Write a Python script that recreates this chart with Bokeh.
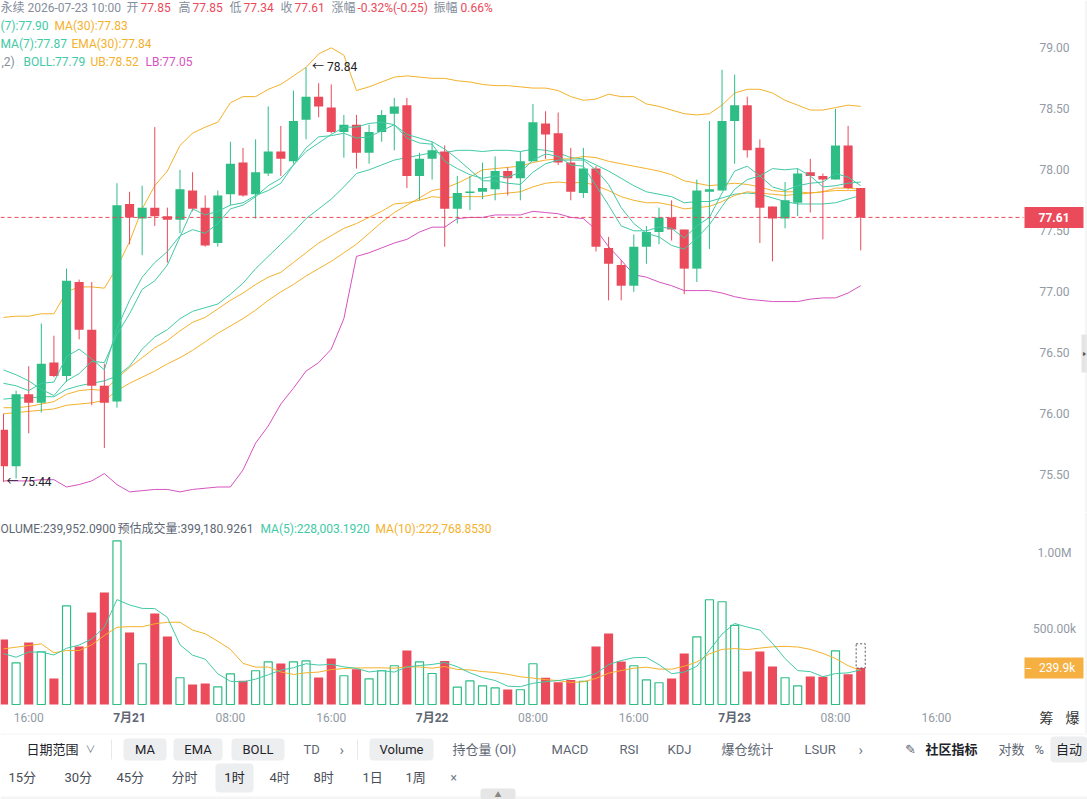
from bokeh.plotting import figure
from bokeh.layouts import column
from bokeh.models import Range1d, Label, Span
from bokeh.embed import file_html
from bokeh.resources import INLINE
from bokeh.core.properties import value

# ---------------- data: 1h candles, 2026-07-20 14:00 .. 2026-07-23 10:00 ----------------
opens = [75.87, 75.57, 76.16, 76.09, 76.42, 76.31, 77.08, 76.69, 76.23, 76.10,
         77.72, 77.60, 77.69, 77.62, 77.59, 77.83, 77.69, 77.40, 77.80, 78.06,
         77.80, 77.97, 78.15, 78.07, 78.41, 78.60, 78.51, 78.31, 78.37, 78.14,
         78.31, 78.46, 78.53, 77.95, 78.09, 78.15, 77.68, 77.81, 77.82, 77.84,
         77.99, 77.93, 78.07, 78.38, 78.30, 78.06, 77.81, 78.01, 77.36, 77.22,
         77.05, 77.37, 77.49, 77.61, 77.51, 77.19, 77.82, 77.83, 78.40, 78.53,
         78.18, 77.70, 77.60, 77.73, 77.98, 77.95, 77.92, 78.20, 77.85]
highs = [76.00, 76.19, 76.39, 76.74, 76.64, 77.19, 77.10, 77.08, 76.41, 77.89,
         77.82, 77.87, 78.35, 77.69, 78.00, 77.98, 77.79, 77.83, 78.23, 78.18,
         78.25, 78.52, 78.36, 78.65, 78.84, 78.71, 78.70, 78.45, 78.45, 78.37,
         78.49, 78.59, 78.59, 78.14, 78.23, 78.20, 77.95, 77.95, 78.06, 78.11,
         78.02, 78.15, 78.54, 78.48, 78.47, 78.18, 78.18, 78.03, 77.45, 77.26,
         77.47, 77.54, 77.69, 77.75, 77.51, 77.92, 78.40, 78.82, 78.78, 78.60,
         78.25, 77.70, 77.90, 78.01, 78.09, 77.97, 78.50, 78.36, 77.85]
lows = [75.44, 75.47, 75.84, 76.01, 76.30, 76.26, 76.61, 76.07, 75.72, 76.05,
        77.39, 77.30, 77.54, 77.24, 77.48, 77.66, 77.37, 77.37, 77.71, 77.78,
        77.60, 77.95, 77.95, 78.05, 78.25, 78.43, 78.30, 78.10, 78.01, 78.05,
        78.23, 78.16, 77.85, 77.75, 77.92, 77.37, 77.56, 77.67, 77.76, 77.75,
        77.79, 77.75, 78.07, 78.09, 78.04, 77.75, 77.77, 77.33, 76.93, 76.93,
        77.00, 77.23, 77.39, 77.42, 76.98, 77.08, 77.35, 77.83, 78.05, 78.10,
        77.40, 77.25, 77.52, 77.62, 77.65, 77.43, 77.92, 77.84, 77.34]
closes = [75.57, 76.16, 76.09, 76.41, 76.31, 77.09, 76.69, 76.23, 76.09, 77.71,
          77.61, 77.69, 77.62, 77.59, 77.84, 77.68, 77.38, 77.79, 78.05, 77.79,
          77.98, 78.15, 78.09, 78.40, 78.60, 78.52, 78.31, 78.37, 78.14, 78.31,
          78.45, 78.52, 77.95, 78.09, 78.16, 77.68, 77.81, 77.82, 77.85, 77.99,
          77.93, 78.07, 78.39, 78.29, 78.06, 77.82, 78.01, 77.37, 77.23, 77.05,
          77.37, 77.49, 77.61, 77.51, 77.19, 77.83, 77.84, 78.40, 78.53, 78.16,
          77.69, 77.60, 77.75, 77.97, 77.95, 77.92, 78.20, 77.85, 77.61]
volumes = [428e3, 274e3, 408e3, 347e3, 171e3, 649e3, 382e3, 605e3, 737e3, 1077e3,
           474e3, 268e3, 599e3, 447e3, 176e3, 132e3, 138e3, 116e3, 202e3, 156e3,
           222e3, 281e3, 270e3, 281e3, 287e3, 178e3, 303e3, 189e3, 232e3, 169e3,
           222e3, 255e3, 355e3, 281e3, 204e3, 287e3, 114e3, 156e3, 123e3, 110e3,
           99e3, 97e3, 268e3, 176e3, 147e3, 162e3, 153e3, 382e3, 467e3, 283e3,
           255e3, 162e3, 143e3, 171e3, 336e3, 445e3, 689e3, 676e3, 520e3, 217e3,
           349e3, 250e3, 176e3, 123e3, 184e3, 182e3, 353e3, 199e3, 239952.09]
est_volume_last = 399180.9261

# indicator lines
ma7 = [76.36, 76.32, 76.27, 76.20, 76.15, 76.27, 76.33, 76.43, 76.42, 76.65,
       76.82, 77.02, 77.09, 77.22, 77.45, 77.68, 77.63, 77.66, 77.71, 77.73,
       77.79, 77.83, 77.89, 78.04, 78.15, 78.22, 78.29, 78.35, 78.35, 78.38,
       78.39, 78.37, 78.29, 78.26, 78.23, 78.17, 78.09, 78.00, 77.91, 77.91,
       77.89, 77.88, 77.98, 78.05, 78.08, 78.08, 78.08, 78.00, 77.88, 77.69,
       77.56, 77.48, 77.45, 77.38, 77.35, 77.44, 77.55, 77.70, 77.84, 77.92,
       77.95, 78.01, 78.00, 78.01, 77.95, 77.86, 77.87, 77.89, 77.90]
ema7 = [76.25, 76.23, 76.19, 76.25, 76.26, 76.47, 76.53, 76.45, 76.36, 76.70,
        76.93, 77.12, 77.24, 77.33, 77.46, 77.51, 77.48, 77.56, 77.68, 77.71,
        77.78, 77.87, 77.93, 78.04, 78.18, 78.27, 78.28, 78.30, 78.26, 78.27,
        78.32, 78.37, 78.26, 78.22, 78.21, 78.07, 78.01, 77.96, 77.93, 77.95,
        77.94, 77.98, 78.08, 78.13, 78.11, 78.04, 78.03, 77.87, 77.71, 77.54,
        77.50, 77.50, 77.53, 77.52, 77.44, 77.54, 77.61, 77.81, 77.99, 78.03,
        77.95, 77.86, 77.83, 77.87, 77.89, 77.90, 77.97, 77.94, 77.87]
ma30 = [76.00, 76.01, 76.02, 76.03, 76.04, 76.07, 76.08, 76.09, 76.11, 76.19,
        76.25, 76.30, 76.35, 76.41, 76.46, 76.52, 76.59, 76.66, 76.72, 76.78,
        76.85, 76.93, 77.00, 77.06, 77.13, 77.19, 77.25, 77.32, 77.39, 77.48,
        77.57, 77.65, 77.71, 77.77, 77.83, 77.85, 77.89, 77.94, 78.00, 78.01,
        78.02, 78.03, 78.06, 78.08, 78.09, 78.09, 78.11, 78.10, 78.07, 78.05,
        78.03, 78.01, 77.99, 77.96, 77.91, 77.89, 77.87, 77.88, 77.89, 77.88,
        77.86, 77.83, 77.82, 77.82, 77.81, 77.82, 77.83, 77.83, 77.83]
ema30 = [76.05, 76.05, 76.06, 76.08, 76.10, 76.16, 76.19, 76.20, 76.19, 76.29,
         76.38, 76.46, 76.54, 76.60, 76.68, 76.75, 76.79, 76.86, 76.93, 76.99,
         77.06, 77.12, 77.16, 77.24, 77.32, 77.40, 77.46, 77.52, 77.56, 77.61,
         77.66, 77.72, 77.73, 77.75, 77.78, 77.77, 77.78, 77.78, 77.78, 77.80,
         77.81, 77.82, 77.86, 77.89, 77.90, 77.89, 77.90, 77.87, 77.83, 77.78,
         77.75, 77.73, 77.73, 77.71, 77.68, 77.69, 77.70, 77.74, 77.79, 77.82,
         77.81, 77.80, 77.79, 77.80, 77.81, 77.82, 77.85, 77.85, 77.84]
boll_mid = [76.12, 76.13, 76.13, 76.14, 76.14, 76.20, 76.23, 76.25, 76.27, 76.31,
            76.39, 76.53, 76.63, 76.69, 76.78, 76.84, 76.87, 76.90, 76.98, 77.07,
            77.19, 77.29, 77.39, 77.49, 77.60, 77.68, 77.76, 77.86, 77.97, 78.00,
            78.04, 78.08, 78.10, 78.12, 78.14, 78.14, 78.16, 78.16, 78.15, 78.16,
            78.16, 78.15, 78.17, 78.16, 78.14, 78.10, 78.09, 78.04, 77.99, 77.93,
            77.87, 77.82, 77.80, 77.78, 77.73, 77.74, 77.74, 77.77, 77.80, 77.81,
            77.80, 77.77, 77.74, 77.72, 77.72, 77.72, 77.73, 77.76, 77.79]
boll_ub = [76.79, 76.80, 76.80, 76.82, 76.82, 77.00, 77.04, 77.04, 77.03, 77.20,
           77.41, 77.68, 77.87, 77.99, 78.20, 78.30, 78.35, 78.39, 78.55, 78.60,
           78.60, 78.66, 78.70, 78.77, 78.84, 78.95, 79.00, 78.94, 78.65, 78.68,
           78.72, 78.76, 78.77, 78.76, 78.75, 78.75, 78.73, 78.72, 78.70, 78.69,
           78.69, 78.68, 78.67, 78.67, 78.65, 78.60, 78.57, 78.58, 78.62, 78.60,
           78.60, 78.54, 78.52, 78.49, 78.46, 78.45, 78.46, 78.53, 78.63, 78.66,
           78.66, 78.63, 78.57, 78.53, 78.49, 78.49, 78.51, 78.53, 78.52]
boll_lb = [75.45, 75.45, 75.45, 75.46, 75.46, 75.40, 75.42, 75.45, 75.51, 75.42,
           75.36, 75.37, 75.38, 75.38, 75.36, 75.38, 75.39, 75.40, 75.40, 75.54,
           75.76, 75.90, 76.08, 76.21, 76.35, 76.42, 76.53, 76.78, 77.29, 77.32,
           77.36, 77.40, 77.43, 77.49, 77.53, 77.53, 77.60, 77.61, 77.61, 77.63,
           77.63, 77.63, 77.66, 77.65, 77.64, 77.61, 77.60, 77.51, 77.37, 77.26,
           77.14, 77.12, 77.08, 77.05, 77.01, 77.01, 77.01, 76.99, 76.96, 76.94,
           76.93, 76.92, 76.92, 76.92, 76.94, 76.95, 76.95, 76.99, 77.05]
vol_ma5 = [335e3, 311e3, 345e3, 345e3, 325.6e3, 369.8e3, 391.4e3, 430.8e3, 508.8e3, 690e3,
           655e3, 632.2e3, 631e3, 573e3, 392.8e3, 324.4e3, 298.4e3, 201.8e3, 152.8e3, 148.8e3,
           166.8e3, 195.4e3, 226.2e3, 242e3, 268.2e3, 259.4e3, 263.8e3, 247.6e3, 237.8e3, 214.2e3,
           223e3, 213.4e3, 246.6e3, 256.4e3, 263.4e3, 276.4e3, 248.2e3, 208.4e3, 176.8e3, 158e3,
           120.4e3, 117e3, 139.4e3, 150e3, 157.4e3, 170e3, 181.2e3, 204e3, 262.2e3, 289.4e3,
           308e3, 309.8e3, 262e3, 202.8e3, 213.4e3, 251.4e3, 356.8e3, 463.4e3, 533.2e3, 509.4e3,
           490.2e3, 402.4e3, 302.4e3, 223e3, 216.4e3, 183e3, 203.6e3, 208.2e3, 228.0e3]
vol_ma10 = [366e3, 377e3, 388e3, 399e3, 340e3, 355e3, 355e3, 393e3, 454e3, 507.8e3,
            512.4e3, 511.8e3, 530.9e3, 540.9e3, 541.4e3, 489.7e3, 465.3e3, 416.4e3, 362.9e3, 270.8e3,
            245.6e3, 246.9e3, 214e3, 197.4e3, 208.5e3, 213.1e3, 229.6e3, 236.9e3, 239.9e3, 241.2e3,
            241.2e3, 238.6e3, 247.1e3, 247.1e3, 238.8e3, 249.7e3, 230.8e3, 227.5e3, 216.6e3, 210.7e3,
            198.4e3, 182.6e3, 173.9e3, 163.4e3, 157.7e3, 145.2e3, 149.1e3, 171.7e3, 206.1e3, 223.4e3,
            239e3, 245.5e3, 233e3, 232.5e3, 251.4e3, 279.7e3, 333.3e3, 362.7e3, 368e3, 361.4e3,
            370.8e3, 379.6e3, 382.9e3, 378.1e3, 362.9e3, 336.6e3, 303e3, 255.3e3, 222.8e3]

price_ticks = [75.5, 76.0, 76.5, 77.0, 77.5, 78.0, 78.5, 79.0]
volume_ticks = [500000, 1000000]
volume_tick_labels = ["500.00k", "1.00M"]
time_ticks = [2, 10, 18, 26, 34, 42, 50, 58, 66, 74]
time_tick_labels = ["16:00", "7月21", "08:00", "16:00", "7月22", "08:00", "16:00", "7月23", "08:00", "16:00"]
day_ticks = [10, 34, 58]
last_price = 77.61
last_volume_tag = "239.9k"
peak_idx, peak_val = 24, 78.84
trough_idx, trough_val = 0, 75.44

# ---------------- styling ----------------
FONT = "Roboto, 'Noto Sans CJK SC', sans-serif"
GREEN = "#2EBD85"
RED = "#EA4A5A"
TEAL = "#42C9A6"
ORANGE = "#F4B12C"
MAGENTA = "#D653C0"
GREY = "#848E9C"
AXIS_GREY = "#929AA5"

# horizontal layout: one hourly slot is 12.606 px, first slot centred 3 px from the left edge
SLOT_PX = 12.606
X_START = -3 / SLOT_PX
X_END = X_START + 1087 / SLOT_PX


def px2x(px):
    return X_START + px / SLOT_PX


x = list(range(len(closes)))
up = [i for i in x if closes[i] >= opens[i]]
dn = [i for i in x if closes[i] < opens[i]]
BODY_W = 0.72
AXIS_LABEL_X = px2x(1054)
TAG_X = px2x(1053.5)


def body(i):
    top, bot = max(opens[i], closes[i]), min(opens[i], closes[i])
    if top - bot < 0.012:
        top = bot + 0.012
    return top, bot


def style_fig(f):
    f.grid.visible = False
    f.outline_line_color = None
    f.background_fill_color = "white"
    f.border_fill_color = "white"


def put(fig, fh, x0, ytop, text, color, size="12px", bold=False):
    fig.add_layout(Label(x=x0, y=fh - ytop, x_units="screen", y_units="screen", text=text,
                         text_color=color, text_font=FONT, text_font_size=size,
                         text_font_style="bold" if bold else "normal",
                         text_baseline="middle", text_align="left"))


# ---------------- price pane ----------------
PH = 512
p = figure(frame_width=1087, frame_height=PH, x_range=Range1d(X_START, X_END),
           y_range=Range1d(75.191, 79.388), output_backend="svg", toolbar_location=None,
           min_border=0, x_axis_location=None, y_axis_location=None)
style_fig(p)

# price scale labels
p.text(x=[AXIS_LABEL_X] * len(price_ticks), y=price_ticks, text=[f"{t:.2f}" for t in price_ticks],
       text_align="center", text_baseline="middle", text_font=value(FONT), text_font_size="12px",
       text_color=AXIS_GREY)

# BOLL / MA / EMA lines
p.line(x, boll_ub, color=ORANGE, line_width=1)
p.line(x, boll_lb, color=MAGENTA, line_width=1)
p.line(x, boll_mid, color=TEAL, line_width=1)
p.line(x, ma30, color=ORANGE, line_width=1)
p.line(x, ema30, color=ORANGE, line_width=1)

# candles
p.segment(x0=up, y0=[lows[i] for i in up], x1=up, y1=[highs[i] for i in up], color=GREEN, line_width=1)
p.segment(x0=dn, y0=[lows[i] for i in dn], x1=dn, y1=[highs[i] for i in dn], color=RED, line_width=1)
p.vbar(x=up, width=BODY_W, top=[body(i)[0] for i in up], bottom=[body(i)[1] for i in up],
       fill_color=GREEN, line_color=None)
p.vbar(x=dn, width=BODY_W, top=[body(i)[0] for i in dn], bottom=[body(i)[1] for i in dn],
       fill_color=RED, line_color=None)

p.line(x, ma7, color=TEAL, line_width=1)
p.line(x, ema7, color=TEAL, line_width=1)

# last price line and tag
p.segment(x0=[X_START], y0=[last_price], x1=[px2x(1023)], y1=[last_price], color=RED,
          line_dash="4 3", line_width=1)
p.rect(x=[TAG_X], y=[last_price], width=59, height=21, width_units="screen", height_units="screen",
       fill_color=RED, line_color=None)
p.text(x=[TAG_X], y=[last_price], text=[f"{last_price:.2f}"], text_align="center", text_baseline="middle",
       text_font=value(FONT), text_font_size="12px", text_font_style="bold", text_color="white")

# extreme markers
p.text(x=[peak_idx], y=[peak_val], text=[f"\u2190 {peak_val:.2f}"], x_offset=6, text_baseline="middle",
       text_font=value(FONT), text_font_size="12px", text_color="#1E2329")
p.text(x=[trough_idx], y=[trough_val], text=[f"\u2190 {trough_val:.2f}"], x_offset=3, text_baseline="middle",
       text_font=value(FONT), text_font_size="12px", text_color="#1E2329")

# header rows (the panel is scrolled, so the leading part of each row lies beyond the left edge)
put(p, PH, 0, 7, "永续", GREY)
put(p, PH, 27, 7, "2026-07-23 10:00", GREY)
for xx, lab in [(126, "开"), (178, "高"), (229, "低"), (280, "收"), (331, "涨幅"), (433, "振幅")]:
    put(p, PH, xx, 7, lab, GREY)
for xx, val in [(140, "77.85"), (192, "77.85"), (243, "77.34"), (294, "77.61"),
                (357, "-0.32%(-0.25)"), (460, "0.66%")]:
    put(p, PH, xx, 7, val, RED)
put(p, PH, 0, 25, "(7):77.90", TEAL)
put(p, PH, 54, 25, "MA(30):77.83", ORANGE)
put(p, PH, 0, 43, "MA(7):77.87", TEAL)
put(p, PH, 71, 43, "EMA(30):77.84", ORANGE)
put(p, PH, 1, 61, ",2)", GREY)
put(p, PH, 23, 61, "BOLL:77.79", TEAL)
put(p, PH, 90, 61, "UB:78.52", ORANGE)
put(p, PH, 145, 61, "LB:77.05", MAGENTA)

# right edge rule and side handle
p.add_layout(Span(location=px2x(1085.5), dimension="height", line_color="#E9EBEE", line_width=1))
p.rect(x=[px2x(1085)], y=[76.494], width=8, height=38, width_units="screen", height_units="screen",
       fill_color="#E4E4E4", line_color=None)
p.text(x=[px2x(1084)], y=[76.494], text=["\u25B8"], text_align="center", text_baseline="middle",
       text_font=value(FONT), text_font_size="8px", text_color="#555555")

# ---------------- volume pane (frame also holds the time labels strip) ----------------
VH = 221
VOL_PX = 152e-6          # px per unit volume
v = figure(frame_width=1087, frame_height=VH, x_range=p.x_range,
           y_range=Range1d(-29 / VOL_PX, 192 / VOL_PX),
           output_backend="svg", toolbar_location=None, min_border=0,
           x_axis_location=None, y_axis_location=None)
style_fig(v)
v.add_layout(Span(location=px2x(1085.5), dimension="height", line_color="#E9EBEE", line_width=1))

v.vbar(x=dn, width=BODY_W, top=[volumes[i] for i in dn], bottom=0, fill_color=RED, line_color=None)
v.vbar(x=up, width=BODY_W - 0.08, top=[volumes[i] for i in up], bottom=0, fill_color="white",
       line_color=GREEN, line_width=1.2)
last = len(volumes) - 1
v.quad(left=[last - BODY_W / 2], right=[last + BODY_W / 2], bottom=[volumes[last]], top=[est_volume_last],
       fill_color=None, line_color="#555555", line_dash="2 2", line_width=1)
v.line(x, vol_ma10, color=ORANGE, line_width=1)
v.line(x, vol_ma5, color=TEAL, line_width=1)

# volume scale labels and tag
v.text(x=[AXIS_LABEL_X] * len(volume_ticks), y=volume_ticks, text=volume_tick_labels,
       text_align="center", text_baseline="middle", text_font=value(FONT), text_font_size="12px",
       text_color=AXIS_GREY)
v.rect(x=[TAG_X], y=[volumes[last]], width=59, height=21, width_units="screen", height_units="screen",
       fill_color="#F5B041", line_color=None)
v.text(x=[TAG_X + 0.25], y=[volumes[last]], text=[last_volume_tag], text_align="center", text_baseline="middle",
       text_font=value(FONT), text_font_size="12px", text_color="white")
v.text(x=[px2x(1028)], y=[volumes[last]], text=["\u2013"], text_align="center", text_baseline="middle",
       text_font=value(FONT), text_font_size="11px", text_color="white")

# time labels
hour_ticks = [t for t in time_ticks if t not in day_ticks]
hour_labels = [lab for t, lab in zip(time_ticks, time_tick_labels) if t not in day_ticks]
day_labels = [lab for t, lab in zip(time_ticks, time_tick_labels) if t in day_ticks]
v.text(x=hour_ticks, y=[0] * len(hour_ticks), y_offset=13, text=hour_labels, text_align="center",
       text_baseline="middle", text_font=value(FONT), text_font_size="12px", text_color=AXIS_GREY)
v.text(x=day_ticks, y=[0] * len(day_ticks), y_offset=13, text=day_labels, text_align="center",
       text_baseline="middle", text_font=value(FONT), text_font_size="12px", text_font_style="bold",
       text_color="#5E6673")
v.text(x=[px2x(1046), px2x(1072)], y=[0, 0], y_offset=13, text=["筹", "爆"], text_align="center",
       text_baseline="middle", text_font=value(FONT), text_font_size="14px", text_color="#333333")

put(v, VH, 0, 16, "OLUME:239,952.0900", "#5E6673")
put(v, VH, 117, 16, "预估成交量:399,180.9261", "#5E6673")
put(v, VH, 260, 16, "MA(5):228,003.1920", TEAL)
put(v, VH, 375, 16, "MA(10):222,768.8530", ORANGE)

# ---------------- control strip ----------------
t = figure(frame_width=1087, frame_height=66, x_range=Range1d(0, 1087), y_range=Range1d(799, 733),
           output_backend="svg", toolbar_location=None, min_border=0,
           x_axis_location=None, y_axis_location=None)
style_fig(t)
t.segment(x0=[0], y0=[733.5], x1=[1087], y1=[733.5], color="#EEF0F2", line_width=1)
t.segment(x0=[111, 357], y0=[739, 739], x1=[111, 357], y1=[759, 759], color="#E6E8EA", line_width=1)
t.quad(left=[123, 173, 231, 369, 1050, 215], right=[166, 222, 284, 433, 1087, 253],
       top=[738, 738, 738, 738, 736, 763], bottom=[760, 760, 760, 760, 762, 792],
       fill_color="#EDEEF0", line_color=None, border_radius=4)
t.quad(left=[0], right=[1087], top=[796], bottom=[799], fill_color="#F5F5F5", line_color=None)
t.quad(left=[480], right=[515], top=[788], bottom=[799], fill_color="#E6E6E6", line_color=None, border_radius=3)


def ttext(xs, ys, texts, color, size="13px", bold=False, align="left"):
    t.text(x=xs, y=ys, text=texts, text_color=color, text_font=value(FONT), text_font_size=size,
           text_font_style="bold" if bold else "normal", text_baseline="middle", text_align=align)


ttext([26], [749], ["日期范围"], "#1E2329")
ttext([85], [749], ["\u2228"], "#707A8A", size="10px")
ttext([144.5, 197.5, 257.5, 401], [749] * 4, ["MA", "EMA", "BOLL", "Volume"], "#1E2329", align="center")
ttext([303, 452, 551, 619, 667, 721, 804, 998, 1034], [749] * 9,
      ["TD", "持仓量 (OI)", "MACD", "RSI", "KDJ", "爆仓统计", "LSUR", "对数", "%"], "#5E6673")
ttext([339, 858], [749, 749], ["\u203A", "\u203A"], "#707A8A", size="15px")
ttext([904], [749], ["\u270E"], "#5E6673", size="13px")
ttext([925], [749], ["社区指标"], "#1E2329", bold=True)
ttext([1068.5], [749], ["自动"], "#1E2329", align="center")
ttext([8, 64, 116, 171, 269, 313, 362, 405], [777] * 8,
      ["15分", "30分", "45分", "分时", "4时", "8时", "1日", "1周"], "#474D57")
ttext([234], [777], ["1时"], "#1E2329", align="center")
ttext([450], [777], ["\u00D7"], "#707A8A", size="12px")
ttext([497.5], [794], ["\u25B2"], "#888888", size="7px", align="center")

layout = column(p, v, t, spacing=0)
html = file_html(layout, INLINE, title="ETH 1h")
html = html.replace("<head>", "<head><style>html,body{margin:0;padding:0;}</style>", 1)
open("out.html", "w").write(html)
